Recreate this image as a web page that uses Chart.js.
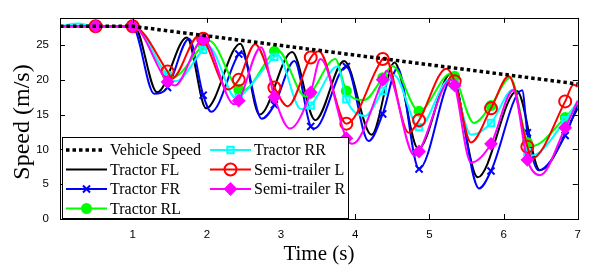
<!DOCTYPE html>
<html>
<head>
<meta charset="utf-8">
<script src="https://cdn.jsdelivr.net/npm/chart.js@4/dist/chart.umd.min.js"></script>
<style>
  html, body { margin: 0; padding: 0; background: #fff; }
</style>
</head>
<body>
<canvas id="chart" width="590" height="268"></canvas>
<script>
// tick labels
var timeTicks = [1, 2, 3, 4, 5, 6, 7];
var speedTicks = [0, 5, 10, 15, 20, 25];

// times (s) where the series carry a marker
var markTimes = [0.5, 1.0, 1.47, 1.95, 2.43, 2.91, 3.4, 3.88, 4.37, 4.86, 5.34, 5.83, 6.32, 6.83];

// [time (s), speed (m/s)]
var vehicleSpeed = [[0.02, 27.7], [1.0, 27.7], [7.0, 19.4]];

var tractorFL = [[0.02, 27.7], [1.02, 27.7], [1.33, 18.2], [1.73, 26.1], [1.99, 15.9], [2.45, 25.2],
  [2.71, 15.0], [3.15, 24.0], [3.46, 14.2], [3.85, 22.7], [4.22, 12.1], [4.53, 22.5], [4.85, 10.1],
  [5.29, 20.9], [5.65, 6.0], [6.18, 18.4], [6.49, 7.0], [7.0, 15.9]];

var tractorFR = [[0.02, 27.7], [0.5, 27.7], [1.0, 27.6], [1.29, 18.0], [1.47, 18.9], [1.76, 25.9],
  [1.95, 17.8], [2.06, 15.4], [2.43, 23.7], [2.47, 23.9], [2.74, 14.4], [2.91, 16.4], [3.18, 22.7],
  [3.4, 13.3], [3.45, 13.0], [3.88, 21.9], [4.18, 11.2], [4.37, 15.1], [4.57, 21.7], [4.86, 7.2],
  [5.32, 20.4], [5.34, 20.2], [5.67, 4.4], [5.83, 6.9], [6.25, 18.5], [6.32, 12.4], [6.47, 7.0],
  [6.83, 12.0], [7.0, 16.5]];

var tractorRL = [[0.02, 27.7], [0.5, 27.7], [1.0, 27.7], [1.47, 20.6], [1.53, 20.3], [1.95, 25.0],
  [2.03, 25.6], [2.43, 18.6], [2.48, 18.5], [2.91, 24.1], [2.95, 24.3], [3.33, 17.6], [3.4, 18.1],
  [3.73, 23.0], [3.88, 18.4], [4.12, 17.1], [4.37, 20.3], [4.5, 22.0], [4.86, 15.5], [5.29, 20.9],
  [5.34, 20.5], [5.6, 13.8], [5.83, 16.3], [6.09, 20.3], [6.32, 11.0], [6.38, 10.5], [6.83, 14.6],
  [7.0, 16.6]];

var tractorRR = [[0.02, 27.7], [0.25, 28.1], [0.5, 27.7], [1.0, 27.7], [1.47, 20.6], [1.58, 19.8],
  [1.95, 24.3], [2.02, 24.8], [2.4, 17.3], [2.43, 17.4], [2.91, 23.3], [2.95, 23.6], [3.27, 15.8],
  [3.4, 16.3], [3.76, 21.9], [3.88, 17.2], [4.13, 14.8], [4.37, 18.4], [4.52, 20.7], [4.86, 13.2],
  [5.27, 20.0], [5.34, 19.2], [5.56, 12.1], [5.83, 13.8], [6.13, 18.6], [6.32, 9.6], [6.37, 9.1],
  [6.83, 14.2], [7.0, 17.0]];

var semiL = [[0.02, 27.7], [0.5, 27.7], [1.0, 27.7], [1.47, 21.2], [1.53, 20.2], [1.89, 26.3],
  [1.95, 25.9], [2.29, 18.6], [2.43, 20.0], [2.65, 25.1], [2.91, 18.9], [3.09, 16.2], [3.4, 23.2],
  [3.51, 24.1], [3.88, 13.7], [4.37, 23.0], [4.4, 23.2], [4.72, 12.4], [4.86, 14.2], [5.23, 21.6],
  [5.34, 19.8], [5.56, 11.0], [5.83, 15.9], [6.07, 20.5], [6.32, 10.4], [6.38, 8.7], [6.83, 16.9],
  [6.94, 19.3], [7.0, 19.0]];

var semiR = [[0.02, 27.7], [0.5, 27.7], [1.0, 27.7], [1.47, 19.7], [1.57, 19.2], [1.95, 25.8],
  [2.37, 16.5], [2.43, 17.0], [2.73, 24.7], [2.91, 17.5], [3.12, 13.0], [3.4, 18.2], [3.53, 23.0],
  [3.88, 11.6], [3.96, 10.8], [4.37, 20.0], [4.42, 21.3], [4.8, 9.1], [4.86, 9.7], [5.29, 20.0],
  [5.34, 19.2], [5.56, 8.1], [5.83, 10.8], [6.13, 18.5], [6.32, 8.5], [6.49, 6.3], [6.83, 13.1],
  [7.0, 17.0]];

function pts(arr) {
  return arr.map(function(p) { return {x: p[0], y: p[1]}; });
}

function isMark(t) {
  for (var i = 0; i < markTimes.length; i++) {
    if (Math.abs(markTimes[i] - t) < 0.004) return true;
  }
  return false;
}

function series(label, data, color, style, radius, fill) {
  return {
    label: label,
    data: pts(data),
    borderColor: color,
    backgroundColor: fill,
    borderWidth: 2,
    cubicInterpolationMode: 'monotone',
    pointStyle: style,
    markRadius: radius,
    pointBorderColor: color,
    pointBackgroundColor: fill,
    pointBorderWidth: 2,
    pointRadius: function(ctx) {
      if (!style || !ctx.raw) return 0;
      return isMark(ctx.raw.x) ? radius : 0;
    },
    pointHoverRadius: 0
  };
}

var datasets = [
  {
    label: 'Vehicle Speed',
    data: pts(vehicleSpeed),
    borderColor: '#000',
    borderWidth: 3.5,
    borderDash: [3.5, 3],
    borderCapStyle: 'butt',
    pointRadius: 0,
    tension: 0,
    legendDash: true
  },
  series('Tractor FL', tractorFL, '#000000', false, 0, '#000000'),
  series('Tractor FR', tractorFR, '#0000ff', 'crossRot', 5, '#0000ff'),
  series('Tractor RL', tractorRL, '#00ff00', 'circle', 4.5, '#00ff00'),
  series('Tractor RR', tractorRR, '#00ffff', 'rect', 4.5, 'rgba(0,255,255,0.25)'),
  series('Semi-trailer L', semiL, '#ff0000', 'circle', 6, 'rgba(255,255,255,0)'),
  series('Semi-trailer R', semiR, '#ff00ff', 'rectRot', 5.5, '#ff00ff')
];

// dataset 0 on top, then the rest in reverse (last plotted on top)
datasets.forEach(function(d, i) { d.order = i === 0 ? -1 : datasets.length - i; });

// box with inward ticks, y title, then the legend inside the plot
var framePlugin = {
  id: 'frame',
  afterDatasetsDraw: function(chart) {
    var ctx = chart.ctx, a = chart.chartArea;
    var xs = chart.scales.x, ys = chart.scales.y;
    ctx.save();
    ctx.strokeStyle = '#000';
    ctx.lineWidth = 1;
    ctx.setLineDash([]);
    ctx.beginPath();
    timeTicks.forEach(function(t) {
      var px = Math.round(xs.getPixelForValue(t)) + 0.5;
      ctx.moveTo(px, a.bottom); ctx.lineTo(px, a.bottom - 5);
      ctx.moveTo(px, a.top); ctx.lineTo(px, a.top + 5);
    });
    speedTicks.forEach(function(v) {
      var py = Math.round(ys.getPixelForValue(v)) + 0.5;
      ctx.moveTo(a.left, py); ctx.lineTo(a.left + 5, py);
      ctx.moveTo(a.right, py); ctx.lineTo(a.right - 5, py);
    });
    ctx.stroke();
    ctx.strokeRect(Math.round(a.left) + 0.5, Math.round(a.top) + 0.5,
      Math.round(a.right - a.left), Math.round(a.bottom - a.top));

    // y axis title
    ctx.save();
    ctx.translate(23, 122);
    ctx.rotate(-Math.PI / 2);
    ctx.font = '24px "Liberation Serif", "Times New Roman", serif';
    ctx.textAlign = 'center';
    ctx.textBaseline = 'middle';
    ctx.fillStyle = '#000';
    ctx.fillText('Speed (m/s)', 0, 0);
    ctx.restore();

    // legend
    var bx = a.left + 2.5, by = 137.5, bw = 286, bh = 81;
    ctx.fillStyle = '#fff';
    ctx.fillRect(bx, by, bw, bh);
    ctx.strokeRect(bx, by, bw, bh);
    var cols = [{x: 66, n: 4}, {x: 210, n: 3}];
    var rowY = [150, 169.5, 189, 208.5];
    var idx = 0;
    ctx.font = '16px "Liberation Serif", "Times New Roman", serif';
    ctx.textBaseline = 'middle';
    cols.forEach(function(c) {
      for (var r = 0; r < c.n; r++) {
        var ds = chart.data.datasets[idx++];
        var y = rowY[r];
        ctx.save();
        ctx.strokeStyle = ds.borderColor;
        ctx.lineWidth = ds.borderWidth;
        if (ds.legendDash) {
          ctx.setLineDash(ds.borderDash);
          ctx.lineCap = 'butt';
        }
        ctx.beginPath();
        ctx.moveTo(c.x, y);
        ctx.lineTo(c.x + (ds.legendDash ? 37 : 41), y);
        ctx.stroke();
        ctx.setLineDash([]);
        if (ds.pointStyle) {
          ctx.fillStyle = ds.pointBackgroundColor;
          ctx.strokeStyle = ds.pointBorderColor;
          ctx.lineWidth = ds.pointBorderWidth;
          Chart.helpers.drawPoint(ctx, {pointStyle: ds.pointStyle, radius: ds.markRadius, borderWidth: ds.pointBorderWidth, rotation: 0}, c.x + 20.5, y);
        }
        ctx.restore();
        ctx.fillStyle = '#000';
        ctx.fillText(ds.label, c.x + 44, y + 1);
      }
    });
    ctx.restore();
  }
};

var ctx = document.getElementById('chart').getContext('2d');
var myChart = new Chart(ctx, {
  type: 'line',
  data: { datasets: datasets },
  options: {
    responsive: false,
    animation: false,
    layout: { padding: { top: 5, right: 7, left: 0, bottom: 0 } },
    plugins: {
      legend: { display: false },
      tooltip: { enabled: false }
    },
    scales: {
      x: {
        type: 'linear',
        min: 0.02,
        max: 7,
        grid: { display: false, drawTicks: false },
        border: { display: false },
        afterBuildTicks: function(s) { s.ticks = timeTicks.map(function(v) { return {value: v}; }); },
        afterFit: function(s) { s.height = 49; },
        ticks: {
          color: '#000',
          padding: 9,
          maxRotation: 0,
          font: { family: '"Liberation Sans", Arial, sans-serif', size: 11.5 }
        },
        title: {
          display: true,
          text: 'Time (s)',
          color: '#000',
          padding: { top: 0, bottom: 1 },
          font: { family: '"Liberation Serif", "Times New Roman", serif', size: 21 }
        }
      },
      y: {
        min: 0,
        max: 28.9,
        grid: { display: false, drawTicks: false },
        border: { display: false },
        afterBuildTicks: function(s) { s.ticks = speedTicks.map(function(v) { return {value: v}; }); },
        afterFit: function(s) { s.width = 60; },
        ticks: {
          color: '#000',
          padding: 11,
          font: { family: '"Liberation Sans", Arial, sans-serif', size: 11.5 }
        }
      }
    }
  },
  plugins: [framePlugin]
});
</script>
</body>
</html>
